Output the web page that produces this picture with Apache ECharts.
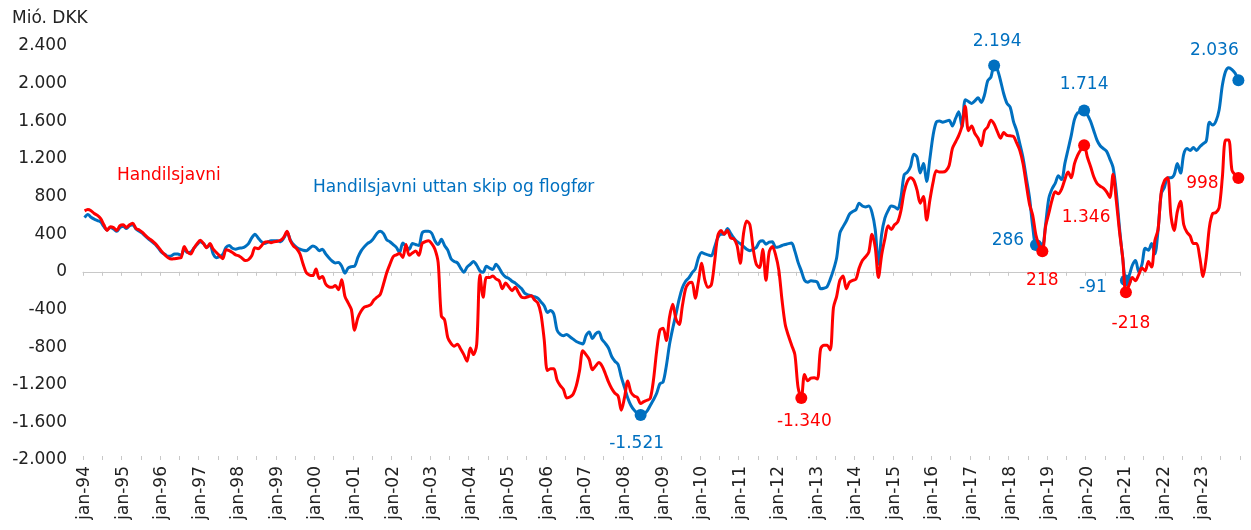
<!DOCTYPE html>
<html>
<head>
<meta charset="utf-8">
<script src="https://cdn.jsdelivr.net/npm/echarts@6/dist/echarts.min.js"></script>
<style>
html,body{margin:0;padding:0;background:#fff;}
#c{width:1251px;height:530px;}
</style>
</head>
<body>
<div id="c"></div>
<script>
// ---- tick labels ----
const years = ['94','95','96','97','98','99','00','01','02','03','04','05','06','07','08','09','10','11','12','13','14','15','16','17','18','19','20','21','22','23'];
const months = ['jan','feb','mar','apr','mai','jun','jul','aug','sep','okt','nov','des'];
const yTicks = {min: -2000, max: 2400, step: 400};

// ---- series: Handilsjavni (red), monthly jan-94 .. des-23 ----
const handilsjavni = [
  648, 662, 650, 620, 600, 565, 500, 440, 480, 470, 440, 490,
  500, 470, 500, 515, 460, 445, 420, 385, 355, 330, 300, 260,
  215, 180, 150, 135, 140, 145, 150, 270, 210, 190, 250, 300,
  335, 300, 255, 300, 240, 205, 170, 140, 235, 225, 205, 180,
  170, 145, 120, 130, 170, 255, 245, 275, 315, 320, 310, 320,
  325, 335, 370, 430, 330, 275, 245, 190, 80, -10, -35, -40,
  30, -70, -50, -130, -160, -165, -145, -190, -85, -260, -330, -400,
  -620, -490, -420, -375, -365, -350, -300, -270, -240, -130, -10, 80,
  160, 180, 194, 152, 290, 175, 200, 220, 175, 300, 320, 330,
  300, 240, 100, -470, -510, -700, -760, -790, -770, -820, -880, -950,
  -810, -880, -770, -30, -270, -60, -60, -45, -75, -95, -180, -120,
  -160, -200, -165, -220, -270, -275, -265, -255, -300, -330, -450, -720,
  -1050, -1030, -1030, -1150, -1210, -1250, -1340, -1330, -1300, -1210, -1050, -840,
  -880, -930, -1040, -1000, -965, -1000, -1080, -1170, -1240, -1290, -1320, -1470,
  -1335, -1160, -1280, -1320, -1335, -1400, -1380, -1365, -1345, -1150, -840, -620,
  -600, -730, -480, -345, -500, -560, -360, -180, -120, -110, -280, -100,
  90, -90, -165, -140, 100, 380, 440, 400, 440, 360, 350, 280,
  90, 400, 540, 500, 250, 80, 45, 240, -90, 210, 270, 180,
  20, -300, -560, -680, -780, -880, -1230, -1340, -1090, -1158, -1130, -1125,
  -1140, -820, -780, -780, -830, -380, -260, -90, -45, -180, -110, -90,
  -78, 40, 120, 160, 210, 400, 260, -60, 180, 350, 490, 450,
  500, 530, 650, 850, 960, 1000, 970, 870, 730, 800, 550, 760,
  950, 1073, 1060, 1060, 1073, 1130, 1310, 1380, 1450, 1550, 1760, 1500,
  1550, 1470, 1420, 1340, 1500, 1540, 1610, 1570, 1490, 1420, 1480, 1450,
  1445, 1440, 1370, 1290, 1150, 930, 720, 600, 390, 280, 218, 480,
  620, 760, 850, 830, 880, 980, 1060, 1000, 1150, 1240, 1300, 1346,
  1220, 1120, 1010, 940, 910, 890, 850, 790, 1037, 760, 430, 150,
  -218, -140, -60, -95, -30, 40, 10, 110, 50, 330, 450, 850,
  970, 1000, 600, 440, 640, 750, 500, 420, 380, 300, 300, 150,
  -50, 150, 480, 620, 630, 680, 1000, 1400, 1400, 1080, 1030, 998
];

// ---- series: Handilsjavni uttan skip og flogfør (blue) ----
const uttanSkip = [
  577, 610, 580, 560, 545, 530, 480, 445, 470, 455, 430, 470,
  485, 460, 490, 500, 455, 430, 410, 375, 345, 320, 290, 250,
  205, 185, 165, 170, 190, 190, 175, 240, 205, 210, 250, 290,
  320, 300, 260, 290, 190, 150, 160, 185, 260, 280, 250, 240,
  250, 255, 270, 300, 360, 400, 360, 320, 300, 315, 330, 330,
  330, 320, 360, 420, 340, 290, 260, 240, 230, 225, 250, 275,
  260, 225, 240, 190, 150, 115, 95, 100, 60, -15, 40, 55,
  60, 150, 220, 265, 300, 320, 360, 410, 430, 405, 340, 320,
  290, 260, 205, 305, 270, 240, 300, 290, 280, 410, 430, 430,
  410, 330, 290, 345, 280, 230, 140, 110, 95, 40, -5, 50,
  80, 110, 70, 10, -5, 60, 40, 25, 80, 40, -20, -55,
  -70, -100, -120, -150, -180, -230, -245, -255, -265, -280, -320, -360,
  -432, -410, -450, -620, -665, -680, -665, -690, -715, -740, -755, -768,
  -680, -640, -710, -660, -640, -720, -760, -810, -900, -950, -985, -1120,
  -1230, -1340, -1420, -1470, -1505, -1521, -1510, -1480, -1420, -1360, -1290, -1190,
  -1170, -1000, -770, -600, -450, -290, -170, -100, -65, -10, 30, 150,
  205, 190, 180, 170, 260, 360, 400, 400, 460, 410, 360, 320,
  300, 270, 240, 225, 240, 258, 320, 330, 294, 315, 320, 260,
  265, 280, 290, 300, 305, 220, 100, 10, -90, -110, -96, -100,
  -110, -180, -175, -160, -80, 20, 150, 410, 480, 540, 613, 640,
  660, 730, 700, 690, 700, 630, 450, 80, 400, 570, 650, 700,
  690, 666, 789, 1030, 1060, 1120, 1250, 1220, 1050, 1150, 960, 1200,
  1450, 1590, 1603, 1590, 1600, 1610, 1550, 1630, 1700, 1540, 1830, 1810,
  1790, 1816, 1850, 1800, 1880, 2030, 2070, 2194, 2150, 2030, 1890, 1790,
  1750, 1600, 1500, 1360, 1210, 1000, 790, 480, 286, 320, 270, 500,
  780, 880, 940, 1020, 980, 1150, 1300, 1450, 1620, 1690, 1700, 1714,
  1670, 1600, 1500, 1400, 1340, 1310, 1280, 1200, 1110, 850, 470, 150,
  -91, -40, 70, 120, 0, 80, 250, 230, 300, 190, 440, 830,
  900, 1000, 1000, 1030, 1150, 1050, 1250, 1310, 1290, 1320, 1290, 1330,
  1360, 1390, 1590, 1560, 1600, 1720, 1980, 2130, 2170, 2150, 2110, 2036
];

// ---- highlighted points (category labels) ----
const redMarks = ['aug-12', 'nov-18', 'des-19', 'jan-21', 'des-23'];
const blueMarks = ['jun-08', 'aug-17', 'sep-18', 'des-19', 'jan-21', 'des-23'];

// ---- styling (not data) ----
const RED = '#FF0000', BLUE = '#0070C0', FONT = 'DejaVu Sans', FS = 17;
const redOffsets = [[3, 24], [0, 29], [2, 72], [5, 31], [-36, 6]];
const blueOffsets = [[-4, 29], [3, -24], [-28, -4], [0, -26], [-33, 7], [-24, -30]];

const categories = [];
years.forEach(y => months.forEach(m => categories.push(m + '-' + y)));

function fmt(v) {
  const s = String(Math.abs(v)).replace(/\B(?=(\d{3})+(?!\d))/g, '.');
  return (v < 0 ? '-' : '') + s;
}

function markData(marks, series, offsets, color) {
  return marks.map((c, k) => {
    const i = categories.indexOf(c);
    return {
      value: [i, series[i]],
      label: {
        show: true, position: 'inside', offset: offsets[k],
        color: color, fontFamily: FONT, fontSize: FS,
        formatter: p => fmt(p.value[1])
      }
    };
  });
}

const chart = echarts.init(document.getElementById('c'), null, {renderer: 'canvas'});
chart.setOption({
  animation: false,
  backgroundColor: '#fff',
  grid: {left: 83, right: 11, top: 46, bottom: 70, containLabel: false, outerBoundsMode: 'none'},
  graphic: [
    {type: 'text', left: 12, top: 10, style: {text: 'Mió. DKK', fill: '#222', font: FS + 'px "DejaVu Sans"'}},
    {type: 'text', left: 117, top: 167, style: {text: 'Handilsjavni', fill: RED, font: FS + 'px "DejaVu Sans"'}},
    {type: 'text', left: 313, top: 179, style: {text: 'Handilsjavni uttan skip og flogfør', fill: BLUE, font: FS + 'px "DejaVu Sans"'}}
  ],
  xAxis: [
    {
      type: 'category', data: categories, position: 'bottom', boundaryGap: true,
      axisLine: {show: false, onZero: false}, axisTick: {show: false},
      axisLabel: {interval: 11, rotate: 90, margin: 6, color: '#222', fontFamily: FONT, fontSize: FS},
      splitLine: {show: false}
    },
    {
      type: 'category', data: categories, position: 'bottom', boundaryGap: true,
      axisLine: {show: true, onZero: true, lineStyle: {color: '#C8C8C8', width: 1}},
      axisTick: {show: true, interval: 5, length: 4, inside: false, lineStyle: {color: '#C8C8C8'}},
      axisLabel: {show: false}, splitLine: {show: false}
    },
    {
      type: 'category', data: categories, position: 'bottom', boundaryGap: true,
      axisLine: {show: false, onZero: true},
      axisTick: {show: true, interval: 5, length: 4, inside: true, lineStyle: {color: '#C8C8C8'}},
      axisLabel: {show: false}, splitLine: {show: false}
    }
  ],
  yAxis: {
    type: 'value', min: yTicks.min, max: yTicks.max, interval: yTicks.step,
    axisLine: {show: false}, axisTick: {show: false}, splitLine: {show: false},
    axisLabel: {margin: 16, color: '#222', fontFamily: FONT, fontSize: FS, formatter: v => fmt(v)}
  },
  series: [
    {
      name: 'Handilsjavni uttan skip og flogfør', type: 'line', data: uttanSkip,
      xAxisIndex: 0, showSymbol: false, smooth: 0.3,
      lineStyle: {color: BLUE, width: 3}, z: 2
    },
    {
      type: 'scatter', xAxisIndex: 0, symbol: 'circle', symbolSize: 12,
      itemStyle: {color: BLUE, opacity: 1}, z: 3,
      data: markData(blueMarks, uttanSkip, blueOffsets, BLUE)
    },
    {
      name: 'Handilsjavni', type: 'line', data: handilsjavni,
      xAxisIndex: 0, showSymbol: false, smooth: 0.3,
      lineStyle: {color: RED, width: 3}, z: 4
    },
    {
      type: 'scatter', xAxisIndex: 0, symbol: 'circle', symbolSize: 12,
      itemStyle: {color: RED, opacity: 1}, z: 5,
      data: markData(redMarks, handilsjavni, redOffsets, RED)
    }
  ]
});
</script>
</body>
</html>
